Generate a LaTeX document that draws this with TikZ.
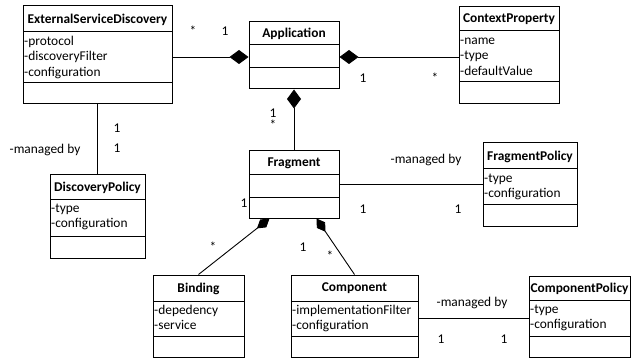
\documentclass[tikz,border=0pt]{standalone}
\usepackage{fontspec}
\setmainfont{Carlito}
\usetikzlibrary{arrows.meta}
\tikzset{
  classbox/.style={draw, line width=1pt, inner sep=0pt, fill=white},
  classline/.style={line width=1pt},
  titletext/.style={font=\bfseries\fontsize{13.4}{15}\selectfont, inner sep=0pt},
  attrtext/.style={anchor=north west, align=left, inner xsep=1pt, inner ysep=2.2pt, font=\fontsize{13.4}{15.5}\selectfont},
  lbl/.style={anchor=base, inner sep=0pt, font=\fontsize{13.4}{15}\selectfont},
  conn/.style={line width=0.9pt},
  compo/.style={conn, -{Diamond[length=19pt,width=14pt]}},
  compofrag/.style={conn, -{Diamond[length=16pt,width=10pt]}},
}
\newcommand\umlbox[9]{%
  \node[classbox, minimum width={#4-#2}, minimum height={#5-#3}] (#1) at ({(#2+#4)/2},{(#3+#5)/2}) {};
  \draw[classline] (#2,#6) -- (#4,#6);
  \draw[classline] (#2,#7) -- (#4,#7);
  \node[titletext] (#1-t) at ({(#2+#4)/2},{(#3+#6)/2+0.5}) {#8};
  \node[attrtext] (#1-a) at (#2,#6) {\strut#9};
}
\begin{document}
\begin{tikzpicture}[x=1pt,y=-1pt]
\useasboundingbox[fill=white] (0,0) rectangle (631,358);
\coordinate (appl) at (249,57);
\coordinate (appr) at (339,57);
\umlbox{esd}{23}{6}{172}{104}{32}{83}{ExternalServiceDiscovery}{-protocol\\-discoveryFilter\\-configuration}
\umlbox{app}{249}{22}{339}{89}{45}{68}{Application}{}
\umlbox{ctx}{459}{7}{559}{104}{31}{82}{ContextProperty}{-name\\-type\\-defaultValue}
\umlbox{dp}{50}{175}{145}{258}{199}{236}{DiscoveryPolicy}{-type\\-configuration}
\umlbox{frag}{249}{151}{339}{218}{175}{197}{Fragment}{}
\umlbox{fp}{483}{143}{577}{226}{169}{204}{FragmentPolicy}{-type\\-configuration}
\umlbox{bind}{153}{275}{244}{357}{301}{336}{Binding}{-depedency\\-service}
\umlbox{comp}{291}{275}{418}{357}{301}{336}{Component}{-implementationFilter\\-configuration}
\umlbox{cpol}{529}{276}{630}{357}{300}{336}{ComponentPolicy}{-type\\-configuration}

\draw[compo] (esd.east |- appl) -- (app.west |- appl);
\draw[compo] (ctx.west |- appr) -- (app.east |- appr);
\draw[conn, {Diamond[length=19pt,width=14pt]}-] (app.south) -- (frag.north);
\draw[conn] (esd.south) -- (dp.north);
\draw[conn] (frag.east) -- (fp.west);
\draw[compofrag] (bind.north) -- ([xshift=21pt]frag.south west);
\draw[compofrag] (comp.north) -- ([xshift=-23pt]frag.south east);
\draw[conn] ([yshift=-2pt]comp.east) -- ([yshift=-2pt]comp.east -| cpol.west);

\node[lbl] (m1) at (193,36) {*};
\node[lbl] (m2) at (225,36) {1};
\node[lbl] (m3) at (363,83) {1};
\node[lbl] (m4) at (435,83) {*};
\node[lbl] (m5) at (273,118) {1};
\node[lbl] (m6) at (273,130) {*};
\node[lbl] (m7) at (117,133) {1};
\node[lbl] (m8) at (117,153) {1};
\node[lbl] (l1) at (45,154) {-managed by};
\node[lbl] (l2) at (426,164) {-managed by};
\node[lbl] (m9) at (363,213) {1};
\node[lbl] (m10) at (458,213) {1};
\node[lbl] (m11) at (244,207) {1};
\node[lbl] (m12) at (213,251) {*};
\node[lbl] (m13) at (303,251) {1};
\node[lbl] (m14) at (330,260) {*};
\node[lbl] (l3) at (472,306) {-managed by};
\node[lbl] (m15) at (441,343) {1};
\node[lbl] (m16) at (504,343) {1};
\end{tikzpicture}
\end{document}
